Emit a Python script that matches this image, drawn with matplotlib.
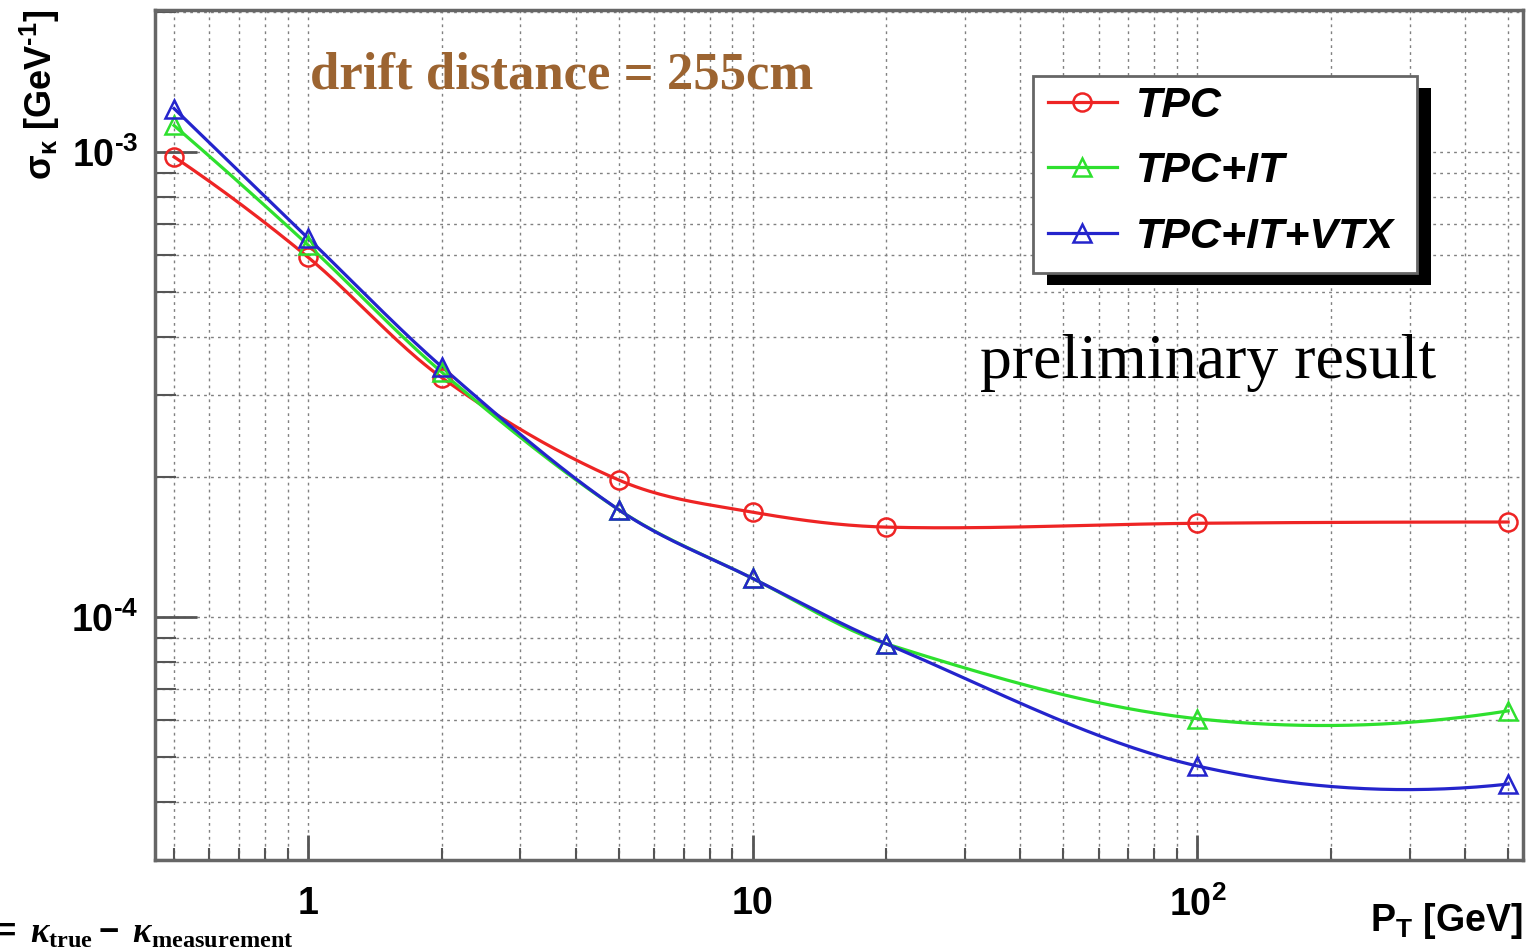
import numpy as np
import matplotlib
matplotlib.use("Agg")
import matplotlib.pyplot as plt
from matplotlib.patches import Rectangle
from matplotlib.ticker import FixedLocator, FixedFormatter, NullFormatter, LogLocator

plt.rcParams['font.family'] = ['Liberation Sans', 'DejaVu Sans']
plt.rcParams['mathtext.fontset'] = 'custom'
plt.rcParams['mathtext.rm'] = 'Liberation Sans:bold'
plt.rcParams['mathtext.sf'] = 'Liberation Sans:bold'
plt.rcParams['mathtext.it'] = 'Liberation Serif:bold:italic'
plt.rcParams['mathtext.bf'] = 'Liberation Serif:bold'
plt.rcParams['mathtext.default'] = 'rm'

# transverse momentum points (GeV)
pt = [0.5, 1, 2, 5, 10, 20, 100, 500]

# sigma_kappa (1/GeV)
tpc = [9.76e-4, 5.94e-4, 3.27e-4, 1.97e-4, 1.68e-4, 1.56e-4, 1.59e-4, 1.60e-4]
tpc_it = [1.14e-3, 6.31e-4, 3.36e-4, 1.70e-4, 1.21e-4, 8.75e-5, 6.04e-5, 6.28e-5]
tpc_it_vtx = [1.24e-3, 6.53e-4, 3.45e-4, 1.70e-4, 1.21e-4, 8.75e-5, 4.78e-5, 4.37e-5]

labels = ['TPC', 'TPC+IT', 'TPC+IT+VTX']
colors = ['#ee2424', '#2ee02e', '#2424cc']
markers = ['o', '^', '^']

xticks = [1, 10, 100]
xticklabels = ['1', '10', r'$10^{2}$']
yticks = [1e-4, 1e-3]
yticklabels = [r'$10^{\text{-}4}$', r'$10^{\text{-}3}$']


def smooth_curve(x, y, n=40):
    # cubic hermite through the points in log-log space (like ROOT's "C" option)
    lx = np.log10(np.asarray(x, float))
    ly = np.log10(np.asarray(y, float))
    h = np.diff(lx)
    d = np.diff(ly) / h
    m = np.empty_like(lx)
    m[1:-1] = (ly[2:] - ly[:-2]) / (lx[2:] - lx[:-2])
    m[0] = d[0] - (d[1] - d[0]) * h[0] / (h[0] + h[1])
    m[-1] = d[-1] + (d[-1] - d[-2]) * h[-1] / (h[-1] + h[-2])
    xs, ys = [], []
    t = np.linspace(0, 1, n)
    for i in range(len(lx) - 1):
        h00 = 2 * t**3 - 3 * t**2 + 1
        h10 = t**3 - 2 * t**2 + t
        h01 = -2 * t**3 + 3 * t**2
        h11 = t**3 - t**2
        xs.append(lx[i] + t * h[i])
        ys.append(h00 * ly[i] + h10 * h[i] * m[i] + h01 * ly[i + 1] + h11 * h[i] * m[i + 1])
    return 10 ** np.concatenate(xs), 10 ** np.concatenate(ys)


fig = plt.figure(figsize=(15.27, 9.5), dpi=100)
ax = fig.add_axes([0.1015, 0.0947, 0.8959, 0.8948])
ax.set_xscale('log')
ax.set_yscale('log')
ax.set_xlim(0.453, 540)
ax.set_ylim(3.0e-5, 2.02e-3)

handles = []
for ys, lab, c, mk in zip([tpc, tpc_it, tpc_it_vtx], labels, colors, markers):
    sx, sy = smooth_curve(pt, ys)
    ln, = ax.plot(sx, sy, color=c, lw=2.3, zorder=3)
    mrk, = ax.plot(pt, ys, ls='none', marker=mk, ms=13, mfc='none', mec=c, mew=1.8, zorder=4)
    handles.append((ln, mrk))

ax.grid(True, which='both', ls=(0, (2, 3)), color='#808080', lw=1.0)

ax.xaxis.set_major_locator(FixedLocator(xticks))
ax.xaxis.set_major_formatter(FixedFormatter(xticklabels))
ax.xaxis.set_minor_locator(LogLocator(base=10, subs=np.arange(2, 10), numticks=20))
ax.xaxis.set_minor_formatter(NullFormatter())
ax.yaxis.set_major_locator(FixedLocator(yticks))
ax.yaxis.set_major_formatter(FixedFormatter(yticklabels))
ax.yaxis.set_minor_locator(LogLocator(base=10, subs=np.arange(2, 10), numticks=20))
ax.yaxis.set_minor_formatter(NullFormatter())

ax.tick_params(axis='x', which='major', direction='in', length=18, width=2, color='#555555',
               labelsize=27, pad=19)
ax.tick_params(axis='x', which='minor', direction='in', length=9, width=1.5, color='#555555')
ax.tick_params(axis='y', which='major', direction='in', length=30, width=2, color='#555555',
               labelsize=27, pad=12)
ax.tick_params(axis='y', which='minor', direction='in', length=15, width=1.5, color='#555555')
for lab in ax.get_xticklabels() + ax.get_yticklabels():
    lab.set_fontweight('bold')

for sp in ax.spines.values():
    sp.set_color('#666666')
    sp.set_linewidth(2.5)

ax.set_xlabel('P$_{T}$ [GeV]', fontsize=27, fontweight='bold', loc='right')
ax.xaxis.set_label_coords(1.0, -0.048)
ax.set_ylabel(r'$\sigma_{\kappa}$ [GeV$^{\text{-}1}$]', fontsize=26, fontweight='bold', loc='top')
ax.yaxis.set_label_coords(-0.068, 1.0)

ax.text(0.1133, 0.908, 'drift distance = 255cm', transform=ax.transAxes,
        family='Liberation Serif', fontweight='bold', fontsize=38, color='#9c6431',
        va='baseline', zorder=8)
ax.text(0.603, 0.567, 'preliminary result', transform=ax.transAxes,
        family='Liberation Serif', fontsize=46, color='black', va='baseline', zorder=8)

# legend box with ROOT style shadow
bx, by, bw, bh = 0.642, 0.6906, 0.2807, 0.2316
ax.add_patch(Rectangle((bx + 0.0102, by - 0.0141), bw, bh, transform=ax.transAxes,
                       facecolor='black', edgecolor='none', zorder=6))
ax.add_patch(Rectangle((bx, by), bw, bh, transform=ax.transAxes,
                       facecolor='white', edgecolor='#666666', lw=2, zorder=6.5))
leg = ax.legend(handles, labels, loc='upper left', bbox_to_anchor=(0.6528, 0.911),
                frameon=False, borderpad=0, borderaxespad=0, handlelength=1.6,
                handletextpad=0.45, labelspacing=0.6,
                prop={'family': 'Liberation Sans', 'weight': 'bold', 'style': 'italic', 'size': 31})
leg.set_zorder(7)

# definition line, cut at the left and bottom edge as in the original slide
fig.text(-0.0065, 0.0085,
         r'$= \ \mathit{\kappa}_{\mathbf{true}}-\ \mathit{\kappa}_{\mathbf{measurement}}$',
         fontsize=25, va='baseline', ha='left')

fig.savefig('out.png', dpi=100)
